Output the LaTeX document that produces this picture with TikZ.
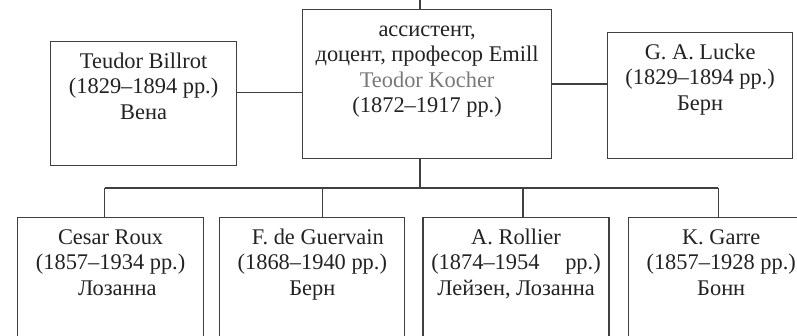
\documentclass[tikz,border=0pt]{standalone}
\usepackage{fontspec}
\setmainfont{Liberation Serif}
\usetikzlibrary{positioning}
\definecolor{inkgray}{RGB}{34,34,34}
\definecolor{linegray}{RGB}{64,64,64}
\definecolor{namegray}{RGB}{120,120,120}
\tikzset{
  person/.style={
    rectangle,
    draw=linegray,
    line width=0.6pt,
    inner xsep=2pt,
    inner ysep=0pt,
    align=center,
    text=inkgray,
    font=\fontsize{11.2pt}{12.7pt}\selectfont,
    text height=38.9pt,
    anchor=north west
  },
  link/.style={draw=linegray, line width=0.6pt}
}

\begin{document}
\begin{tikzpicture}[x=0.5pt,y=-0.5pt]
\useasboundingbox (0,0) rectangle (797,336);
\clip (0,0) rectangle (797,336);
% upper row
\node[person, minimum width=124.5pt, text height=51.6pt, text depth=22.9pt] (kocher) at (302,9)
  {ассистент,\\доцент, професор Emill\\\textcolor{namegray}{Teodor Kocher}\\(1872–1917 рр.)};
\node[person, minimum width=93pt, text depth=23.1pt] (billrot) at (50,41)
  {Teudor Billrot\\(1829–1894 рр.)\\Вена};
\node[person, minimum width=92.5pt, text depth=24.1pt] (lucke) at (607,32)
  {G. A. Lucke\\(1829–1894 рр.)\\Берн};
% lower row
\node[person, minimum width=93pt, text depth=40pt] (roux) at (17,217)
  {Cesar Roux\\(1857–1934 рр.)\\\hspace{0.6em}Лозанна};
\node[person, minimum width=92.5pt, text depth=40pt, right=7.5pt of roux] (guervain)
  {\hspace{0.5em}F. de Guervain\\(1868–1940 рр.)\\Берн};
\node[person, minimum width=93pt, text depth=40pt, right=8.5pt of guervain] (rollier)
  {A. Rollier\\(1874–1954\hspace{0.9em} рр.)\\Лейзен, Лозанна};
\node[person, minimum width=93pt, text depth=40pt, right=9pt of rollier] (garre)
  {K. Garre\\(1857–1928 рр.)\\Бонн};
% connectors
\coordinate (top) at (420,0);
\coordinate (trunk) at (420,188);
\draw[link] (top) -- (kocher.north -| top);
\draw[link] (kocher.south -| trunk) -- (trunk);
\draw[link] ([yshift=5.5pt]billrot.east) -- ([yshift=5.5pt]billrot.east -| kocher.west);
\draw[link] (kocher.east) -- (kocher.east -| lucke.west);
\foreach \n/\dx in {roux/-3pt, guervain/5.25pt, rollier/3.5pt, garre/-1.5pt}
  \draw[link] ([xshift=\dx]\n.north) -- ([xshift=\dx]\n.north |- trunk);
\draw[link] ([xshift=-3pt]roux.north |- trunk) -- ([xshift=-1.5pt]garre.north |- trunk);
\end{tikzpicture}
\end{document}
